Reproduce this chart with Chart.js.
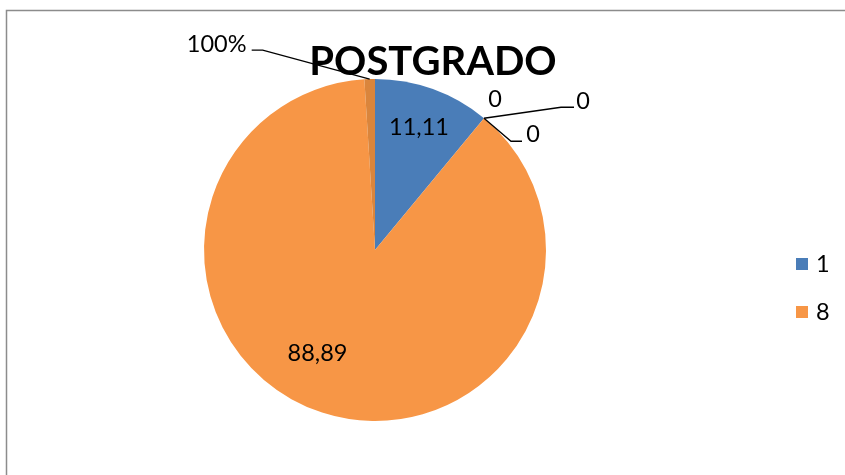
<!DOCTYPE html>
<html>
<head>
<meta charset="utf-8">
<script src="https://cdn.jsdelivr.net/npm/chart.js@4.4.0/dist/chart.umd.min.js"></script>
<style>
  html, body { margin: 0; padding: 0; background: #fff; }
  #wrap { width: 845px; height: 475px; position: relative; }
</style>
</head>
<body>
<div id="wrap"><canvas id="pie"></canvas></div>
<script>
// slice data, in drawing order (clockwise from 12 o'clock)
var categories = ['1', '', '', '', '8', ''];
var values = [11.11, 0, 0, 0, 88.89, 1];
var valueFormat = ['num', 'num', 'num', 'num', 'num', 'pct'];
var sliceColors = ['#4A7DB8', '#C0504D', '#9BBB59', '#8064A2', '#F79646', '#DA853C'];
var chartTitle = 'POSTGRADO';

function fmt(i) {
  var v = values[i];
  if (valueFormat[i] == 'pct') return Math.round(v * 100) + '%';
  return String(v).replace('.', ',');
}

var FONT = 'Lato, "Open Sans", sans-serif';

// label placement: radius factor inside slice, extra px offset, and leader lines (relative to slice edge point)
var labelStyle = [
  { inside: 0.76, dx: 0, dy: 0 },
  { edge: true, dx: 11, dy: -19 },
  { edge: true, dx: 99, dy: -17, leader: [[77, -11], [90, -11]] },
  { edge: true, dx: 49, dy: 16, leader: [[27, 23], [38, 23]] },
  { inside: 0.69, dx: -21, dy: -9 },
  { edge: true, dx: -153, dy: -35, leader: [[-107, -29], [-118, -29]] }
];

var framePlugin = {
  id: 'frame',
  beforeDraw: function(chart) {
    var c = chart.ctx;
    c.save();
    c.strokeStyle = '#8c8c8c';
    c.lineWidth = 1.5;
    c.strokeRect(6.5, 10.5, 900, 500);
    c.restore();
  }
};

var labelPlugin = {
  id: 'pieLabels',
  afterDatasetsDraw: function(chart) {
    var c = chart.ctx;
    var meta = chart.getDatasetMeta(0);
    c.save();
    c.font = '23.5px ' + FONT;
    c.fillStyle = '#000';
    c.textAlign = 'center';
    c.textBaseline = 'middle';
    meta.data.forEach(function(arc, i) {
      var st = labelStyle[i];
      var p = arc.getProps(['x', 'y', 'startAngle', 'endAngle', 'outerRadius'], true);
      var mid = (p.startAngle + p.endAngle) / 2;
      var r = st.inside ? p.outerRadius * st.inside : p.outerRadius;
      var ex = p.x + Math.cos(mid) * r;
      var ey = p.y + Math.sin(mid) * r;
      if (st.leader) {
        c.beginPath();
        c.strokeStyle = '#000';
        c.lineWidth = 1.3;
        c.moveTo(ex, ey);
        st.leader.forEach(function(pt) { c.lineTo(ex + pt[0], ey + pt[1]); });
        c.stroke();
      }
      c.fillText(fmt(i), ex + st.dx, ey + st.dy);
    });

    // title
    c.font = 'bold 40px ' + FONT;
    c.textBaseline = 'alphabetic';
    c.fillText(chartTitle, 433, 75);

    // legend (named categories only)
    c.font = '23.5px ' + FONT;
    c.textAlign = 'left';
    c.textBaseline = 'middle';
    var ly = 264;
    categories.forEach(function(name, i) {
      if (!name) return;
      c.fillStyle = sliceColors[i];
      c.fillRect(796, ly - 6, 12, 12);
      c.fillStyle = '#000';
      c.fillText(name, 816, ly);
      ly += 48;
    });
    c.restore();
  }
};

var chart = new Chart(document.getElementById('pie'), {
  type: 'pie',
  data: {
    labels: categories,
    datasets: [{
      data: values,
      backgroundColor: sliceColors,
      borderWidth: 0
    }]
  },
  options: {
    responsive: true,
    maintainAspectRatio: false,
    animation: false,
    layout: { padding: { left: 204, right: 299, top: 79, bottom: 54 } },
    plugins: {
      legend: { display: false },
      tooltip: { enabled: false },
      title: { display: false }
    }
  },
  plugins: [framePlugin, labelPlugin]
});
</script>
</body>
</html>
